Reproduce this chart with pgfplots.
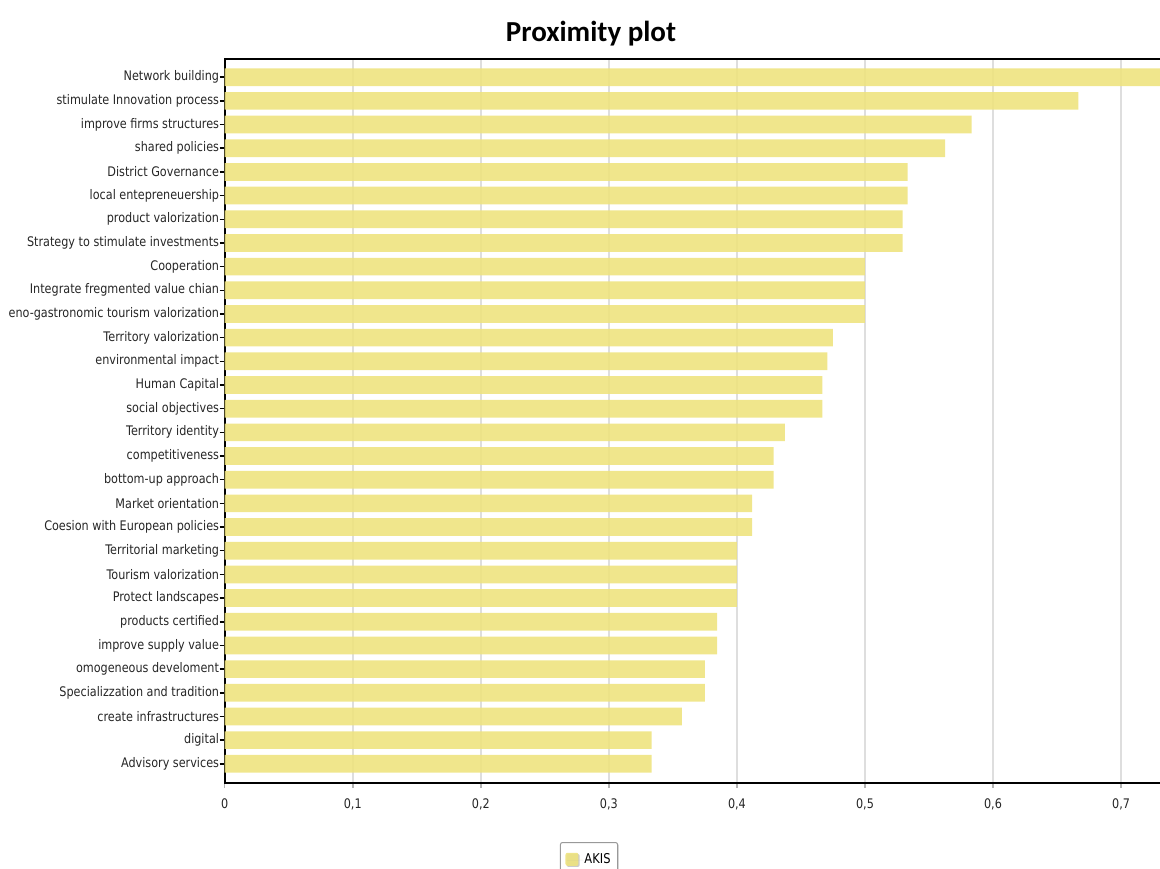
\documentclass[border=0pt]{standalone}
\usepackage{pgfplots}
\pgfplotsset{compat=1.18}
\usetikzlibrary{shadows}
\usepackage{fontspec}
\setmainfont{DejaVu Sans}[FakeStretch=0.85]
\newfontfamily\titlefont{Carlito}
\definecolor{barc}{RGB}{238,227,127}
\definecolor{gridc}{RGB}{222,222,222}
\pgfplotstableread{
y x
0 0.75
1 0.6667
2 0.5833
3 0.5625
4 0.5333
5 0.5333
6 0.5294
7 0.5294
8 0.5
9 0.5
10 0.5
11 0.475
12 0.4706
13 0.4667
14 0.4667
15 0.4375
16 0.4286
17 0.4286
18 0.4118
19 0.4118
20 0.4
21 0.4
22 0.4
23 0.3846
24 0.3846
25 0.375
26 0.375
27 0.3571
28 0.3333
29 0.3333
}\akis
\begin{document}
\begin{tikzpicture}
\path[use as bounding box, clip] (0pt,0pt) rectangle (1160pt,869pt);
\begin{axis}[
  at={(224.7pt,86pt)}, anchor=south west,
  scale only axis, width=938pt, height=724pt,
  xmin=0, xmax=0.7325, ymin=-0.769, ymax=29.81, y dir=reverse,
  axis line style={line width=2pt, black},
  xtick={0,0.1,0.2,0.3,0.4,0.5,0.6,0.7},
  xticklabels={0,{0,1},{0,2},{0,3},{0,4},{0,5},{0,6},{0,7}},
  ytick={0,...,29},
  yticklabels={Network building,stimulate Innovation process,improve firms structures,shared policies,District Governance,local entepreneuership,product valorization,Strategy to stimulate investments,Cooperation,Integrate fregmented value chian,eno-gastronomic tourism valorization,Territory valorization,environmental impact,Human Capital,social objectives,Territory identity,competitiveness,bottom-up approach,Market orientation,Coesion with European policies,Territorial marketing,Tourism valorization,Protect landscapes,products certified,improve supply value,omogeneous develoment,Specializzation and tradition,create infrastructures,digital,Advisory services},
  tick align=outside, xtick pos=left, ytick pos=left,
  major tick length=5pt,
  xtick style={gray!60, line width=1.5pt},
  ytick style={black, line width=1.5pt},
  xmajorgrids, grid style={gridc, line width=2pt},
  tick label style={font=\fontsize{13.2}{15}\selectfont, text=black!85},
  yticklabel style={inner sep=0pt, xshift=-0.5pt},
  xticklabel style={yshift=-7pt},
  legend style={at={(0.3884,-0.0815)}, anchor=north, draw=gray!80, rounded corners=2pt, line width=1pt, font=\fontsize{13.5}{15}\selectfont, inner xsep=5pt, inner ysep=9pt, drop shadow={shadow xshift=1.2pt, shadow yshift=-1.2pt, fill=gray!80}},
  legend image code/.code={\fill[barc] (0pt,-6.5pt) rectangle (13pt,6.5pt); \path (0pt,0pt) -- (17pt,0pt);},
]
\addplot[xbar, bar shift=0pt, bar width=17.7pt, fill=barc, fill opacity=0.9, draw=none] table[x=x, y=y] {\akis};
\addlegendentry{AKIS}
\end{axis}
\node[font=\titlefont\bfseries\fontsize{29}{30}\selectfont, anchor=base] at (591pt,827.3pt) {Proximity plot};
\end{tikzpicture}
\end{document}
